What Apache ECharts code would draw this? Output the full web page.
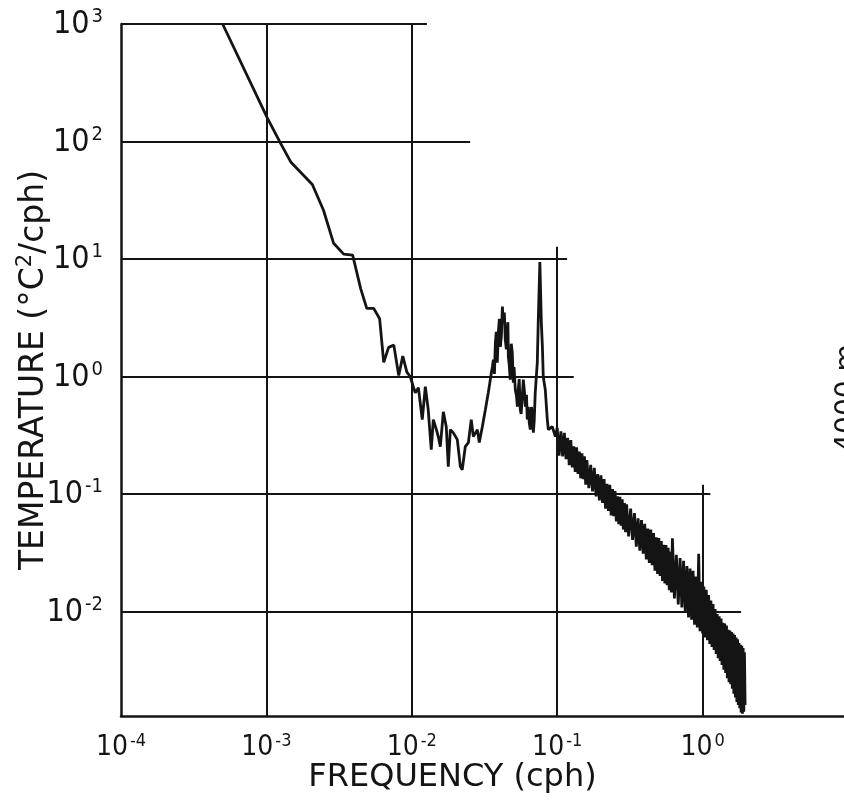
<!DOCTYPE html>
<html><head><meta charset="utf-8">
<script src="https://cdn.jsdelivr.net/npm/echarts@6/dist/echarts.min.js"></script>
<style>html,body{margin:0;padding:0;background:#fff}#chart{width:844px;height:806px}</style>
</head><body><div id="chart"></div>
<script>
// Frequency (cph) and temperature spectral density (°C²/cph)
const freq = [
  5.0e-4, 1.016e-3, 1.25e-3, 1.47e-3, 2.07e-3, 2.47e-3, 2.90e-3, 3.40e-3, 3.92e-3, 4.45e-3,
  4.90e-3, 5.47e-3, 6.01e-3, 6.41e-3, 6.93e-3, 7.52e-3, 8.13e-3, 8.67e-3, 9.25e-3, 9.77e-3,
  1.024e-2, 1.057e-2, 1.110e-2, 1.180e-2, 1.239e-2, 1.297e-2, 1.361e-2, 1.406e-2, 1.476e-2, 1.521e-2,
  1.571e-2, 1.648e-2, 1.726e-2, 1.782e-2, 1.841e-2, 1.928e-2, 2.056e-2, 2.158e-2, 2.223e-2, 2.333e-2,
  2.449e-2, 2.564e-2, 2.649e-2, 2.825e-2, 2.911e-2, 3.055e-2, 3.206e-2, 3.357e-2, 3.467e-2, 3.581e-2,
  3.639e-2, 3.70e-2, 3.758e-2, 3.81e-2, 3.873e-2, 3.936e-2, 4.00e-2, 4.064e-2, 4.13e-2, 4.198e-2,
  4.256e-2, 4.33e-2, 4.395e-2, 4.47e-2, 4.539e-2, 4.58e-2, 4.613e-2, 4.68e-2, 4.753e-2, 4.83e-2,
  4.909e-2, 4.989e-2, 5.05e-2, 5.152e-2, 5.25e-2, 5.321e-2, 5.395e-2, 5.48e-2, 5.572e-2, 5.65e-2,
  5.754e-2, 5.848e-2, 5.95e-2, 6.039e-2, 6.15e-2, 6.223e-2, 6.324e-2, 6.43e-2, 6.531e-2, 6.65e-2,
  6.745e-2, 6.855e-2, 6.95e-2, 7.063e-2, 7.295e-2, 7.413e-2, 7.60e-2, 7.78e-2, 7.91e-2, 8.02e-2,
  8.28e-2, 8.55e-2, 8.69e-2, 9.25e-2, 9.71e-2,
  0.100, 0.103, 0.106, 0.109, 0.112, 0.115, 0.118, 0.121, 0.124, 0.127,
  0.130, 0.133, 0.136, 0.139, 0.142, 0.145, 0.148, 0.151, 0.154, 0.157, 0.160,
  0.165, 0.170, 0.175, 0.180, 0.185, 0.190, 0.195, 0.200, 0.205, 0.210,
  0.215, 0.220, 0.225, 0.230, 0.235, 0.240, 0.245, 0.250, 0.255, 0.260,
  0.265, 0.270, 0.275, 0.280, 0.285, 0.290, 0.295, 0.300,
  0.31, 0.32, 0.33, 0.34, 0.35, 0.36, 0.37, 0.38, 0.39, 0.40,
  0.41, 0.42, 0.43, 0.44, 0.45, 0.46, 0.47, 0.48, 0.49, 0.50,
  0.51, 0.52, 0.53, 0.54, 0.55, 0.56, 0.57, 0.58, 0.59, 0.60, 0.61,
  0.62, 0.64, 0.66, 0.68, 0.70, 0.72, 0.74, 0.76, 0.78, 0.80,
  0.82, 0.84, 0.86, 0.88, 0.90, 0.92, 0.94, 0.96, 0.98, 1.00,
  1.02, 1.04, 1.06, 1.08, 1.10, 1.12, 1.14, 1.16, 1.18, 1.20,
  1.22, 1.24, 1.26, 1.28, 1.30, 1.32, 1.34, 1.36, 1.38, 1.40,
  1.42, 1.44, 1.46, 1.48, 1.50, 1.52, 1.54, 1.56, 1.58, 1.60,
  1.62, 1.64, 1.66, 1.68, 1.70, 1.72, 1.74, 1.76, 1.78, 1.80,
  1.82, 1.84, 1.86, 1.88, 1.90, 1.92, 1.94, 1.96
];
const psd = [
  1000, 158, 97, 67, 43, 26, 13.6, 11.0, 10.8, 5.6,
  3.8, 3.8, 3.1, 1.32, 1.77, 1.85, 1.02, 1.49, 1.09, 0.995,
  0.818, 0.728, 0.803, 0.430, 0.818, 0.521, 0.238, 0.430, 0.353, 0.308,
  0.253, 0.501, 0.374, 0.171, 0.353, 0.333, 0.290, 0.171, 0.161, 0.253,
  0.274, 0.430, 0.308, 0.353, 0.274, 0.374, 0.521, 0.728, 0.940, 1.21,
  1.39, 1.05, 1.94, 2.4, 1.31, 2.35, 3.1, 1.79, 2.2, 3.93,
  2.86, 3.5, 2.05, 1.7, 2.50, 2.9, 1.47, 1.25, 0.940, 1.9,
  1.60, 0.885, 1.2, 0.771, 0.68, 0.553, 0.771, 0.95, 0.521, 0.48,
  0.673, 0.940, 0.75, 0.553, 0.70, 0.430, 0.553, 0.40, 0.353, 0.55,
  0.492, 0.333, 0.42, 0.728, 1.31, 3.04, 9.4, 2.86, 1.79, 0.995,
  0.771, 0.430, 0.353, 0.374, 0.308,
  0.366, 0.212, 0.342, 0.209, 0.332, 0.198, 0.301, 0.176, 0.287, 0.168,
  0.255, 0.154, 0.250, 0.148, 0.230, 0.136, 0.222, 0.134, 0.209, 0.120, 0.194,
  0.112, 0.177, 0.105, 0.167, 0.0953, 0.148, 0.0883, 0.144, 0.0839, 0.134,
  0.0750, 0.122, 0.0718, 0.120, 0.0657, 0.110, 0.0648, 0.106, 0.0583, 0.0958,
  0.0553, 0.0948, 0.0537, 0.0900, 0.0498, 0.0838, 0.0473, 0.0816,
  0.0435, 0.0752, 0.0406, 0.0689, 0.0356, 0.0620, 0.0329, 0.0599, 0.0311, 0.0557,
  0.0277, 0.0507, 0.0259, 0.0498, 0.0248, 0.0465, 0.0222, 0.0428, 0.0209, 0.0422,
  0.0201, 0.0398, 0.0182, 0.0369, 0.0173, 0.0367, 0.0167, 0.0349, 0.0152, 0.0324, 0.0145,
  0.042, 0.0129, 0.0303, 0.0115, 0.0285, 0.0108, 0.0270, 0.0098, 0.0244, 0.0089,
  0.0232, 0.0085, 0.0222, 0.0077, 0.0198, 0.0073, 0.031, 0.0068, 0.0179, 0.0065,
  0.0163, 0.0060, 0.0153, 0.0057, 0.0138, 0.0053, 0.0124, 0.0050, 0.0116, 0.0047,
  0.0105, 0.00435, 0.0095, 0.0040, 0.0091, 0.0038, 0.0087, 0.0035, 0.0080, 0.0032,
  0.0079, 0.0030, 0.0076, 0.0027, 0.0070, 0.0025, 0.0069, 0.0024, 0.0067, 0.0022,
  0.0065, 0.0020, 0.0063, 0.00185, 0.0060, 0.0017, 0.0058, 0.0016, 0.0054, 0.0015,
  0.0052, 0.00138, 0.0051, 0.00135, 0.0049, 0.0014, 0.0045, 0.0016
];
const xTickExponents = [-4, -3, -2, -1, 0];
const yTickExponents = [-2, -1, 0, 1, 2, 3];
const xRange = [1e-4, 10];
const yRange = [0.00129, 1000];
// hand-drawn grid: [level, far end] in data units
const hGridLines = [[1000, 0.0127], [100, 0.0252], [10, 0.117], [1, 0.130], [0.1, 1.13], [0.01, 1.84]];
const vGridLines = [[0.001, 1000], [0.01, 1000], [0.1, 12.7], [1, 0.12]];
const xTitle = 'FREQUENCY (cph)';
const sideNote = '4000 m';

const ink = '#141414';
const font = "'DejaVu Sans', sans-serif";
const tickFont = "'Liberation Sans Narrow', 'DejaVu Sans Condensed', 'DejaVu Sans', sans-serif";

function expLabel(exps) {
  return function (v) {
    const e = Math.log10(v);
    const r = Math.round(e);
    if (Math.abs(e - r) > 1e-6 || exps.indexOf(r) < 0) return '';
    return '{b|10}{s|' + r + '}';
  };
}

const chart = echarts.init(document.getElementById('chart'), null, { renderer: 'canvas' });
chart.setOption({
  animation: false,
  backgroundColor: '#ffffff',
  grid: { left: 121, top: 24, width: 727, height: 692, containLabel: false, outerBoundsMode: 'none' },
  xAxis: {
    type: 'log', logBase: 10, min: xRange[0], max: xRange[1],
    name: xTitle, nameLocation: 'middle', nameGap: 46, nameMoveOverlap: false,
    nameTextStyle: { color: ink, fontFamily: font, fontSize: 32, padding: [0, 64, 0, 0] },
    axisLine: { show: true, lineStyle: { color: ink, width: 2.5 } },
    axisTick: { show: false }, splitLine: { show: false }, minorTick: { show: false },
    axisLabel: {
      show: true, margin: 16, formatter: expLabel(xTickExponents), color: ink,
      rich: {
        b: { fontFamily: tickFont, fontSize: 28, lineHeight: 30, color: ink, verticalAlign: 'bottom' },
        s: { fontFamily: tickFont, fontSize: 18, lineHeight: 18, color: ink, verticalAlign: 'top', padding: [0, 0, 0, 2] }
      }
    }
  },
  yAxis: {
    type: 'log', logBase: 10, min: yRange[0], max: yRange[1],
    name: '{t|TEMPERATURE (°C}{u|2}{t|/cph)}', nameLocation: 'middle', nameGap: 70, nameRotate: 90,
    nameMoveOverlap: false,
    nameTextStyle: {
      color: ink,
      rich: {
        t: { fontFamily: font, fontSize: 33, lineHeight: 36, color: ink, verticalAlign: 'bottom' },
        u: { fontFamily: font, fontSize: 21, lineHeight: 21, color: ink, verticalAlign: 'top' }
      }
    },
    axisLine: { show: true, lineStyle: { color: ink, width: 2.5 } },
    axisTick: { show: false }, splitLine: { show: false }, minorTick: { show: false },
    axisLabel: {
      show: true, margin: 18, formatter: expLabel(yTickExponents), color: ink,
      rich: {
        b: { fontFamily: tickFont, fontSize: 32, lineHeight: 34, color: ink, verticalAlign: 'bottom' },
        s: { fontFamily: tickFont, fontSize: 20, lineHeight: 20, color: ink, verticalAlign: 'top', padding: [0, 0, 0, 2] }
      }
    }
  },
  graphic: [{
    type: 'text', x: 848, y: 398, rotation: Math.PI / 2, silent: true,
    style: { text: sideNote, fill: ink, font: "28px 'DejaVu Sans', sans-serif", textAlign: 'center', textVerticalAlign: 'middle' }
  }],
  series: [{
    type: 'line',
    data: freq.map((f, i) => [f, psd[i]]),
    showSymbol: false, symbol: 'none', smooth: false,
    lineStyle: { color: ink, width: 2.8 },
    silent: true,
    markLine: {
      silent: true, symbol: ['none', 'none'], animation: false,
      label: { show: false },
      lineStyle: { color: ink, width: 2, type: 'solid' },
      emphasis: { disabled: true },
      data: hGridLines.map(([y, x2]) => [{ coord: [xRange[0], y] }, { coord: [x2, y] }])
        .concat(vGridLines.map(([x, y2]) => [{ coord: [x, yRange[0]] }, { coord: [x, y2] }]))
    }
  }]
});
</script>
</body></html>
